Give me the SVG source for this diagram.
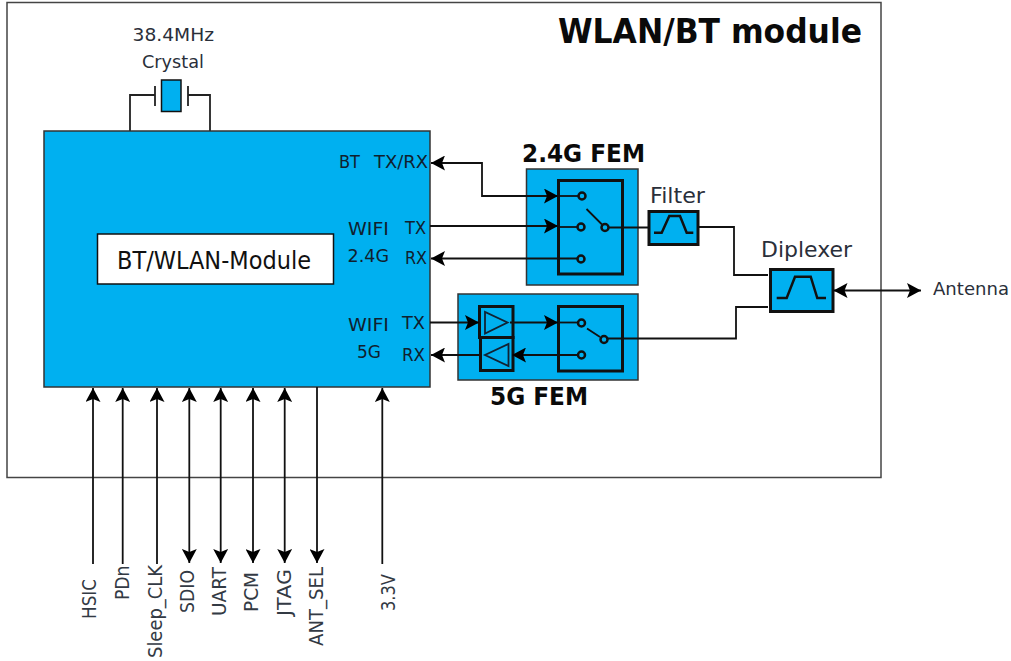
<svg xmlns="http://www.w3.org/2000/svg" width="1011" height="661" viewBox="0 0 1011 661">
<style>
text{font-family:"DejaVu Sans","Liberation Sans",sans-serif;fill:#2a2f3a;font-size:18px}
.dk{fill:#10202e}
.b{font-weight:bold;fill:#0a0a0a;font-size:25px}
.v{font-size:19px;fill:#333a44}
.blue{fill:#00b0f0;stroke:#333;stroke-width:1.5}
.sw{fill:none;stroke:#111;stroke-width:3}
.blk{fill:#00b0f0;stroke:#111;stroke-width:3}
.w{fill:none;stroke:#222;stroke-width:1.8}
.tri{fill:none;stroke:#123;stroke-width:1.8}
.c{fill:none;stroke:#111;stroke-width:1.8}
.pb{fill:none;stroke:#111;stroke-width:2.500}
.a{marker-end:url(#arr)}
.aa{marker-start:url(#arr);marker-end:url(#arr)}
</style>
<defs>
<marker id="arr" markerUnits="userSpaceOnUse" markerWidth="15" markerHeight="15" refX="14" refY="7.500" orient="auto-start-reverse" viewBox="0 0 15 15">
<path d="M0 0L14 7.500L0 15L3 7.500Z" fill="#000"/>
</marker>
</defs>
<rect width="1011" height="661" fill="#fff"/>
<g id="module"><rect x="7" y="2.500" width="874" height="475" fill="#fff" stroke="#444" stroke-width="1.500"/>
<text class="b" x="558" y="43" style="font-size:33px" textLength="304" lengthAdjust="spacingAndGlyphs">WLAN/BT module</text></g>
<g id="crystal">
<text x="132.500" y="41" textLength="81.500" lengthAdjust="spacingAndGlyphs">38.4MHz</text>
<text x="142" y="68" textLength="62" lengthAdjust="spacingAndGlyphs">Crystal</text>
<path class="w" d="M130 131V95H155M155 86V106M188 86V106M188 95H210V131"/>
<rect x="161.500" y="80" width="19.500" height="31.500" fill="#00b0f0" stroke="#111" stroke-width="1.500"/>
</g>
<g id="soc">
<rect class="blue" x="44" y="131" width="386" height="256"/>
<text class="dk" x="339" y="168" textLength="21" lengthAdjust="spacingAndGlyphs">BT</text>
<text class="dk" x="374" y="168" textLength="54" lengthAdjust="spacingAndGlyphs">TX/RX</text>
<text class="dk" x="348" y="235" textLength="41" lengthAdjust="spacingAndGlyphs">WIFI</text>
<text class="dk" x="347.500" y="262" textLength="41.500" lengthAdjust="spacingAndGlyphs">2.4G</text>
<text class="dk" x="405" y="234" textLength="21" lengthAdjust="spacingAndGlyphs">TX</text>
<text class="dk" x="405" y="264" textLength="22" lengthAdjust="spacingAndGlyphs">RX</text>
<text class="dk" x="348" y="331" textLength="41" lengthAdjust="spacingAndGlyphs">WIFI</text>
<text class="dk" x="357" y="358" textLength="24" lengthAdjust="spacingAndGlyphs">5G</text>
<text class="dk" x="402" y="329" textLength="23" lengthAdjust="spacingAndGlyphs">TX</text>
<text class="dk" x="402" y="361" textLength="23" lengthAdjust="spacingAndGlyphs">RX</text>
</g>
<g id="core">
<rect x="97.500" y="234" width="236" height="50" fill="#fff" stroke="#111" stroke-width="1.500"/>
<text x="117" y="269" style="font-size:25px;fill:#111" textLength="194" lengthAdjust="spacingAndGlyphs">BT/WLAN-Module</text>
</g>
<g id="fem24">
<rect class="blue" x="526.500" y="169" width="111.500" height="116"/>
<rect class="sw" x="558.500" y="180.500" width="64" height="93.500"/>
<circle class="pb" cx="582" cy="196" r="3.500"/><circle class="pb" cx="581" cy="227" r="3.500"/><circle class="pb" cx="581" cy="259" r="3.500"/><circle class="pb" cx="605" cy="227.500" r="3.500"/>
<path class="c" d="M586.500 209L602 224.500"/>
<text class="b" x="522" y="162" textLength="123" lengthAdjust="spacingAndGlyphs">2.4G FEM</text>
</g>
<g id="fem5">
<rect class="blue" x="458" y="294" width="180" height="86"/>
<rect class="sw" x="479.500" y="306.500" width="33.500" height="31"/>
<rect class="sw" x="480.500" y="337.500" width="32.500" height="33"/>
<path class="tri" d="M485 312V333.500L507.500 322.500Z M508.500 344V366L485 355Z"/>
<rect class="sw" x="558.500" y="306.500" width="64" height="64.500"/>
<circle class="pb" cx="581.500" cy="323" r="3.500"/><circle class="pb" cx="581.500" cy="355" r="3.500"/><circle class="pb" cx="604" cy="339.500" r="3.500"/>
<path class="c" d="M587 328.500L600 337"/>
<text class="b" x="490" y="405" textLength="98" lengthAdjust="spacingAndGlyphs">5G FEM</text>
</g>
<g id="filter">
<rect class="blk" x="649" y="211.500" width="49" height="33"/>
<path class="sw" style="stroke-width:2.500" d="M654 232.700H661.700L669.300 216H680L686.700 232.700H693.300"/>
<text x="650" y="203" style="font-size:22px" textLength="55" lengthAdjust="spacingAndGlyphs">Filter</text>
</g>
<g id="diplexer">
<rect class="blk" x="770.500" y="269.500" width="62.500" height="42"/>
<path class="sw" style="stroke-width:2.500" d="M776.700 298H786.700L795 276.700H810.700L817.300 298H826"/>
<text x="761" y="257" style="font-size:22px" textLength="91" lengthAdjust="spacingAndGlyphs">Diplexer</text>
</g>
<g id="connectors">
<path class="c aa" d="M558 196H482V163H431"/>
<path class="c" d="M558 196H578"/>
<path class="c a" d="M430 226H558"/><path class="c" d="M558 227H577"/>
<path class="c a" d="M578 258.500H431"/>
<path class="c" d="M609 227.500H649M698 227H734V275H768"/>
<path class="c a" d="M430 322.500H479"/>
<path class="c a" d="M510 322.500H558"/><path class="c" d="M558 322.500H578"/>
<path class="c a" d="M578 355H512"/>
<path class="c a" d="M480 355H431"/>
<path class="c" d="M608 338.500H736V307H768"/>
<path class="c aa" d="M833.500 290.500H921"/>
<path class="c a" d="M93 564V388"/>
<path class="c a" d="M122.700 564V388"/>
<path class="c a" d="M157 564V388"/>
<path class="c aa" d="M189.300 563V388"/>
<path class="c aa" d="M220.700 563V388"/>
<path class="c aa" d="M253 563V388"/>
<path class="c aa" d="M284.700 563V388"/>
<path class="c a" d="M317 387V563"/>
<path class="c a" d="M382.300 564V388"/>
</g>
<g id="signals">
<text class="v" transform="translate(96 619) rotate(-90)" textLength="40" lengthAdjust="spacingAndGlyphs">HSIC</text>
<text class="v" transform="translate(129 600) rotate(-90)" textLength="34.500" lengthAdjust="spacingAndGlyphs">PDn</text>
<text class="v" transform="translate(161.700 658) rotate(-90)" textLength="93" lengthAdjust="spacingAndGlyphs">Sleep_CLK</text>
<text class="v" transform="translate(194 613) rotate(-90)" textLength="43" lengthAdjust="spacingAndGlyphs">SDIO</text>
<text class="v" transform="translate(226 616) rotate(-90)" textLength="49" lengthAdjust="spacingAndGlyphs">UART</text>
<text class="v" transform="translate(258 612) rotate(-90)" textLength="40" lengthAdjust="spacingAndGlyphs">PCM</text>
<text class="v" transform="translate(290.700 616) rotate(-90)" textLength="47" lengthAdjust="spacingAndGlyphs">JTAG</text>
<text class="v" transform="translate(323 646) rotate(-90)" textLength="79" lengthAdjust="spacingAndGlyphs">ANT_SEL</text>
<text class="v" transform="translate(395 611) rotate(-90)" textLength="37" lengthAdjust="spacingAndGlyphs">3.3V</text>
<text x="933" y="295" textLength="76" lengthAdjust="spacingAndGlyphs">Antenna</text>
</g>
</svg>
